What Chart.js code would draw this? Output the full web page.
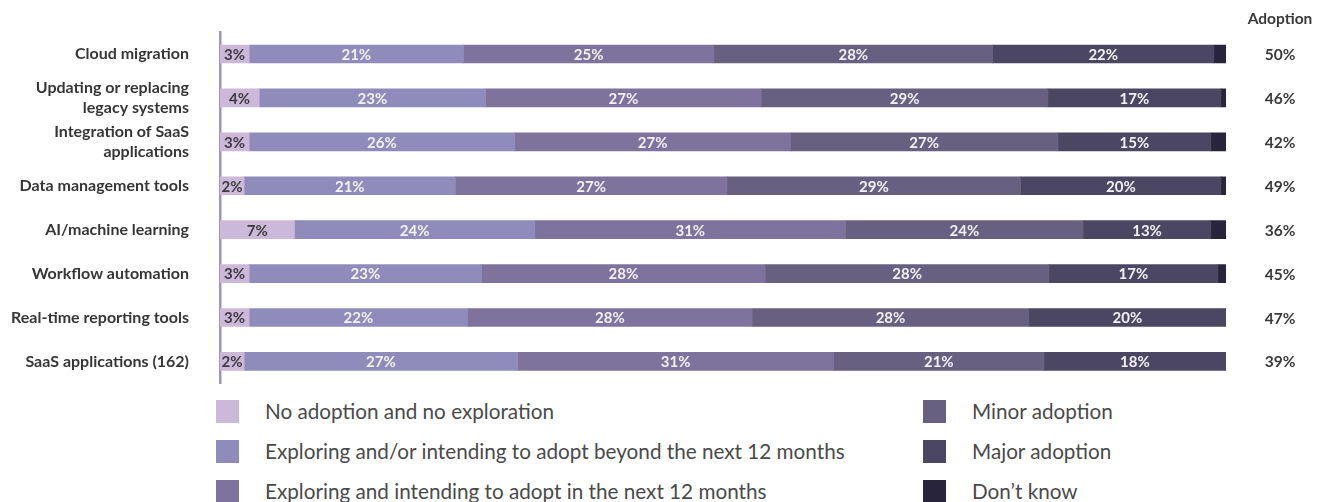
<!DOCTYPE html>
<html>
<head>
<meta charset="utf-8">
<script src="https://cdn.jsdelivr.net/npm/chart.js@4.4.0/dist/chart.umd.min.js"></script>
<style>
  body { margin: 0; background: #fff; font-family: Lato, sans-serif; }
  #wrap { position: relative; width: 1330px; height: 393px; }
  #legend {
    display: grid;
    grid-auto-flow: column;
    grid-template-rows: repeat(3, 40px);
    grid-template-columns: 707px 300px;
    margin: -2px 0 0 216px;
  }
  .item { display: flex; align-items: center; font-size: 20.7px; color: #4a4a4a; }
  .box { width: 23px; height: 23px; margin-right: 26px; flex: none; }
</style>
</head>
<body>
<div id="wrap"><canvas id="chart"></canvas></div>
<div id="legend"></div>
<script>
const categories = [
  'Cloud migration',
  ['Updating or replacing', 'legacy systems'],
  ['Integration of SaaS', 'applications'],
  'Data management tools',
  'AI/machine learning',
  'Workflow automation',
  'Real-time reporting tools',
  'SaaS applications (162)'
];

const seriesNames = [
  'No adoption and no exploration',
  'Exploring and/or intending to adopt beyond the next 12 months',
  'Exploring and intending to adopt in the next 12 months',
  'Minor adoption',
  'Major adoption',
  'Don\u2019t know'
];

// shares in %, one entry per category
const noAdoption     = [2.9, 3.9, 2.9, 2.4, 7.4, 2.9, 2.9, 2.4];
const exploringLater = [21.3, 22.5, 26.4, 21.0, 23.9, 23.1, 21.7, 27.2];
const exploringSoon  = [24.9, 27.4, 27.4, 27.0, 30.9, 28.2, 28.3, 31.4];
const minorAdoption  = [27.7, 28.5, 26.6, 29.2, 23.6, 28.2, 27.5, 20.9];
const majorAdoption  = [22.0, 17.2, 15.2, 19.9, 12.7, 16.8, 19.6, 18.1];
const dontKnow       = [1.2, 0.5, 1.5, 0.5, 1.5, 0.8, 0, 0];

const colors = ['#ccb8d8', '#8f8bbb', '#7d739c', '#676080', '#4b4662', '#27243c'];
const series = [noAdoption, exploringLater, exploringSoon, minorAdoption, majorAdoption, dontKnow];

// minor + major adoption, shown to the right of each bar
const adoption = minorAdoption.map((v, i) => Math.round(v + majorAdoption[i]));

const barLabels = {
  id: 'barLabels',
  afterDatasetsDraw(chart) {
    const { ctx, chartArea } = chart;
    ctx.save();
    ctx.font = 'bold 15px Lato';
    ctx.textAlign = 'center';
    ctx.textBaseline = 'middle';
    chart.data.datasets.forEach((ds, i) => {
      if (i === 5) return;
      chart.getDatasetMeta(i).data.forEach((bar, j) => {
        const v = ds.data[j];
        if (!v) return;
        ctx.fillStyle = i === 0 ? '#3d3a42' : '#f3f1f6';
        ctx.fillText(Math.round(v) + '%', (bar.x + bar.base) / 2, bar.y + 1);
      });
    });
    const colX = chartArea.right + 54;
    ctx.font = 'bold 15.5px Lato';
    ctx.fillStyle = '#3a3a3a';
    ctx.fillText('Adoption', colX, chartArea.top - 13);
    const yScale = chart.scales.y;
    adoption.forEach((a, j) => {
      ctx.fillText(a + '%', colX, yScale.getPixelForValue(j) + 1);
    });
    ctx.restore();
  }
};

const chart = new Chart(document.getElementById('chart'), {
  type: 'bar',
  data: {
    labels: categories,
    datasets: series.map((data, i) => ({
      label: seriesNames[i],
      data: data,
      backgroundColor: colors[i],
      borderWidth: 0,
      barThickness: 18
    }))
  },
  options: {
    indexAxis: 'y',
    responsive: true,
    maintainAspectRatio: false,
    animation: false,
    layout: { padding: { top: 32, right: 104, bottom: 2, left: 0 } },
    plugins: {
      legend: { display: false },
      tooltip: { enabled: false }
    },
    scales: {
      x: { stacked: true, min: 0, max: 100, display: false },
      y: {
        stacked: true,
        z: 1,
        afterFit: (s) => { s.width = 220; },
        // tick length keeps the labels clear of the axis line
        grid: { display: false, drawTicks: true, tickLength: 31 },
        border: { display: true, color: '#9d92c9', width: 2.5 },
        ticks: {
          padding: 0,
          color: '#363636',
          font: { family: 'Lato', weight: 'bold', size: 16, lineHeight: 1.2 }
        }
      }
    }
  },
  plugins: [barLabels]
});

// two-column legend built from the datasets
const legend = document.getElementById('legend');
chart.data.datasets.forEach((ds) => {
  const item = document.createElement('div');
  item.className = 'item';
  item.innerHTML = '<span class="box" style="background:' + ds.backgroundColor + '"></span>' + ds.label;
  legend.appendChild(item);
});
</script>
</body>
</html>
